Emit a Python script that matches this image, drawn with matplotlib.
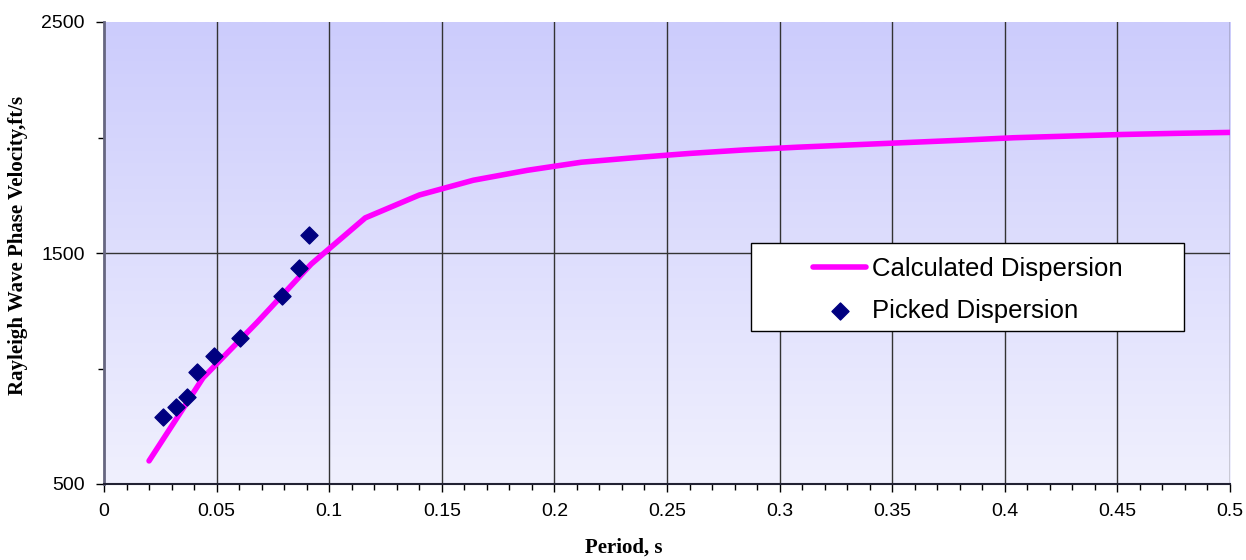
import numpy as np
import matplotlib
matplotlib.use("Agg")
import matplotlib.pyplot as plt
from matplotlib.colors import LinearSegmentedColormap
from matplotlib.ticker import MultipleLocator, FixedLocator
from matplotlib.patches import Rectangle

# Calculated dispersion curve
calc_period = [0.020, 0.044, 0.068, 0.092, 0.116, 0.140, 0.164, 0.188, 0.212, 0.236,
               0.260, 0.284, 0.308, 0.332, 0.356, 0.380, 0.404, 0.428, 0.452, 0.476, 0.500]
calc_velocity = [600, 960, 1200, 1452, 1652, 1751, 1815, 1858, 1893, 1913,
                 1931, 1946, 1958, 1968, 1978, 1988, 1999, 2006, 2013, 2018, 2022]

# Picked dispersion points
pick_period = [0.0264, 0.0318, 0.0370, 0.0412, 0.0490, 0.0604, 0.0789, 0.0866, 0.0910]
pick_velocity = [791, 832, 875, 986, 1054, 1131, 1314, 1434, 1578]

x_ticks = [0, 0.05, 0.1, 0.15, 0.2, 0.25, 0.3, 0.35, 0.4, 0.45, 0.5]
x_tick_labels = ["0", "0.05", "0.1", "0.15", "0.2", "0.25", "0.3", "0.35", "0.4", "0.45", "0.5"]
y_ticks = [500, 1500, 2500]

fig = plt.figure(figsize=(12.46, 5.6), dpi=100)
ax = fig.add_axes([104/1246, 1-484/560, (1230-104)/1246, (484-22)/560])

# gradient background
cmap = LinearSegmentedColormap.from_list("bg", ["#F0F0FE", "#CCCCFC"])
grad = np.linspace(0, 1, 256).reshape(-1, 1)
ax.imshow(grad, cmap=cmap, aspect="auto", origin="lower",
          extent=[0, 0.5, 500, 2500], zorder=0)

ax.set_xlim(0, 0.5)
ax.set_ylim(500, 2500)

# grid
for xv in x_ticks[1:]:
    ax.axvline(xv, color="#333333", lw=1.0, zorder=1)
ax.axhline(1500, color="#333333", lw=1.0, zorder=1)

ax.plot(calc_period, calc_velocity, color="#FF00FF", lw=4, zorder=3,
        solid_capstyle="round", label="Calculated Dispersion")
ax.scatter(pick_period, pick_velocity, marker="D", s=75, color="#000080",
           zorder=4, label="Picked Dispersion")

ax.xaxis.set_major_locator(FixedLocator(x_ticks))
ax.set_xticklabels(x_tick_labels)
ax.xaxis.set_minor_locator(MultipleLocator(0.01))
ax.yaxis.set_major_locator(FixedLocator(y_ticks))
ax.yaxis.set_minor_locator(FixedLocator([1000, 2000]))

ax.tick_params(axis="both", which="major", direction="out", length=6, width=1,
               labelsize=14, color="#000000", pad=8)
ax.tick_params(axis="both", which="minor", direction="out", length=4, width=1, color="#000000")
for lab in ax.get_xticklabels() + ax.get_yticklabels():
    lab.set_fontfamily("Liberation Sans")

for s in ["top", "right"]:
    ax.spines[s].set_visible(False)
ax.spines["left"].set_color("#666680")
ax.spines["left"].set_linewidth(2)
ax.spines["bottom"].set_color("#222233")
ax.spines["bottom"].set_linewidth(1.5)

fig.text(624/1246, 1-548/560, "Period, s", ha="center", va="center",
         fontfamily="Liberation Serif", fontweight="bold", fontsize=15)
fig.text(18/1246, 1-245/560, "Rayleigh Wave Phase Velocity,ft/s", ha="center", va="center",
         rotation=90, fontfamily="Liberation Serif", fontweight="bold", fontsize=15)

# legend box
box_x0, box_y0, box_w, box_h = 0.575, 0.331, 0.384, 0.191
ax.add_patch(Rectangle((box_x0, box_y0), box_w, box_h, transform=ax.transAxes,
                       facecolor="white", edgecolor="#000000", lw=1, zorder=5))
leg = ax.legend(loc="center", bbox_to_anchor=(box_x0 + box_w/2 + 0.0005, box_y0 + box_h/2 - 0.0065),
                frameon=False, prop={"family": "Liberation Sans", "size": 18.5},
                handlelength=2.06, borderpad=0.0, labelspacing=0.68,
                handletextpad=0.23, borderaxespad=0)
leg.set_zorder(6)

fig.savefig("out.png", dpi=100)
